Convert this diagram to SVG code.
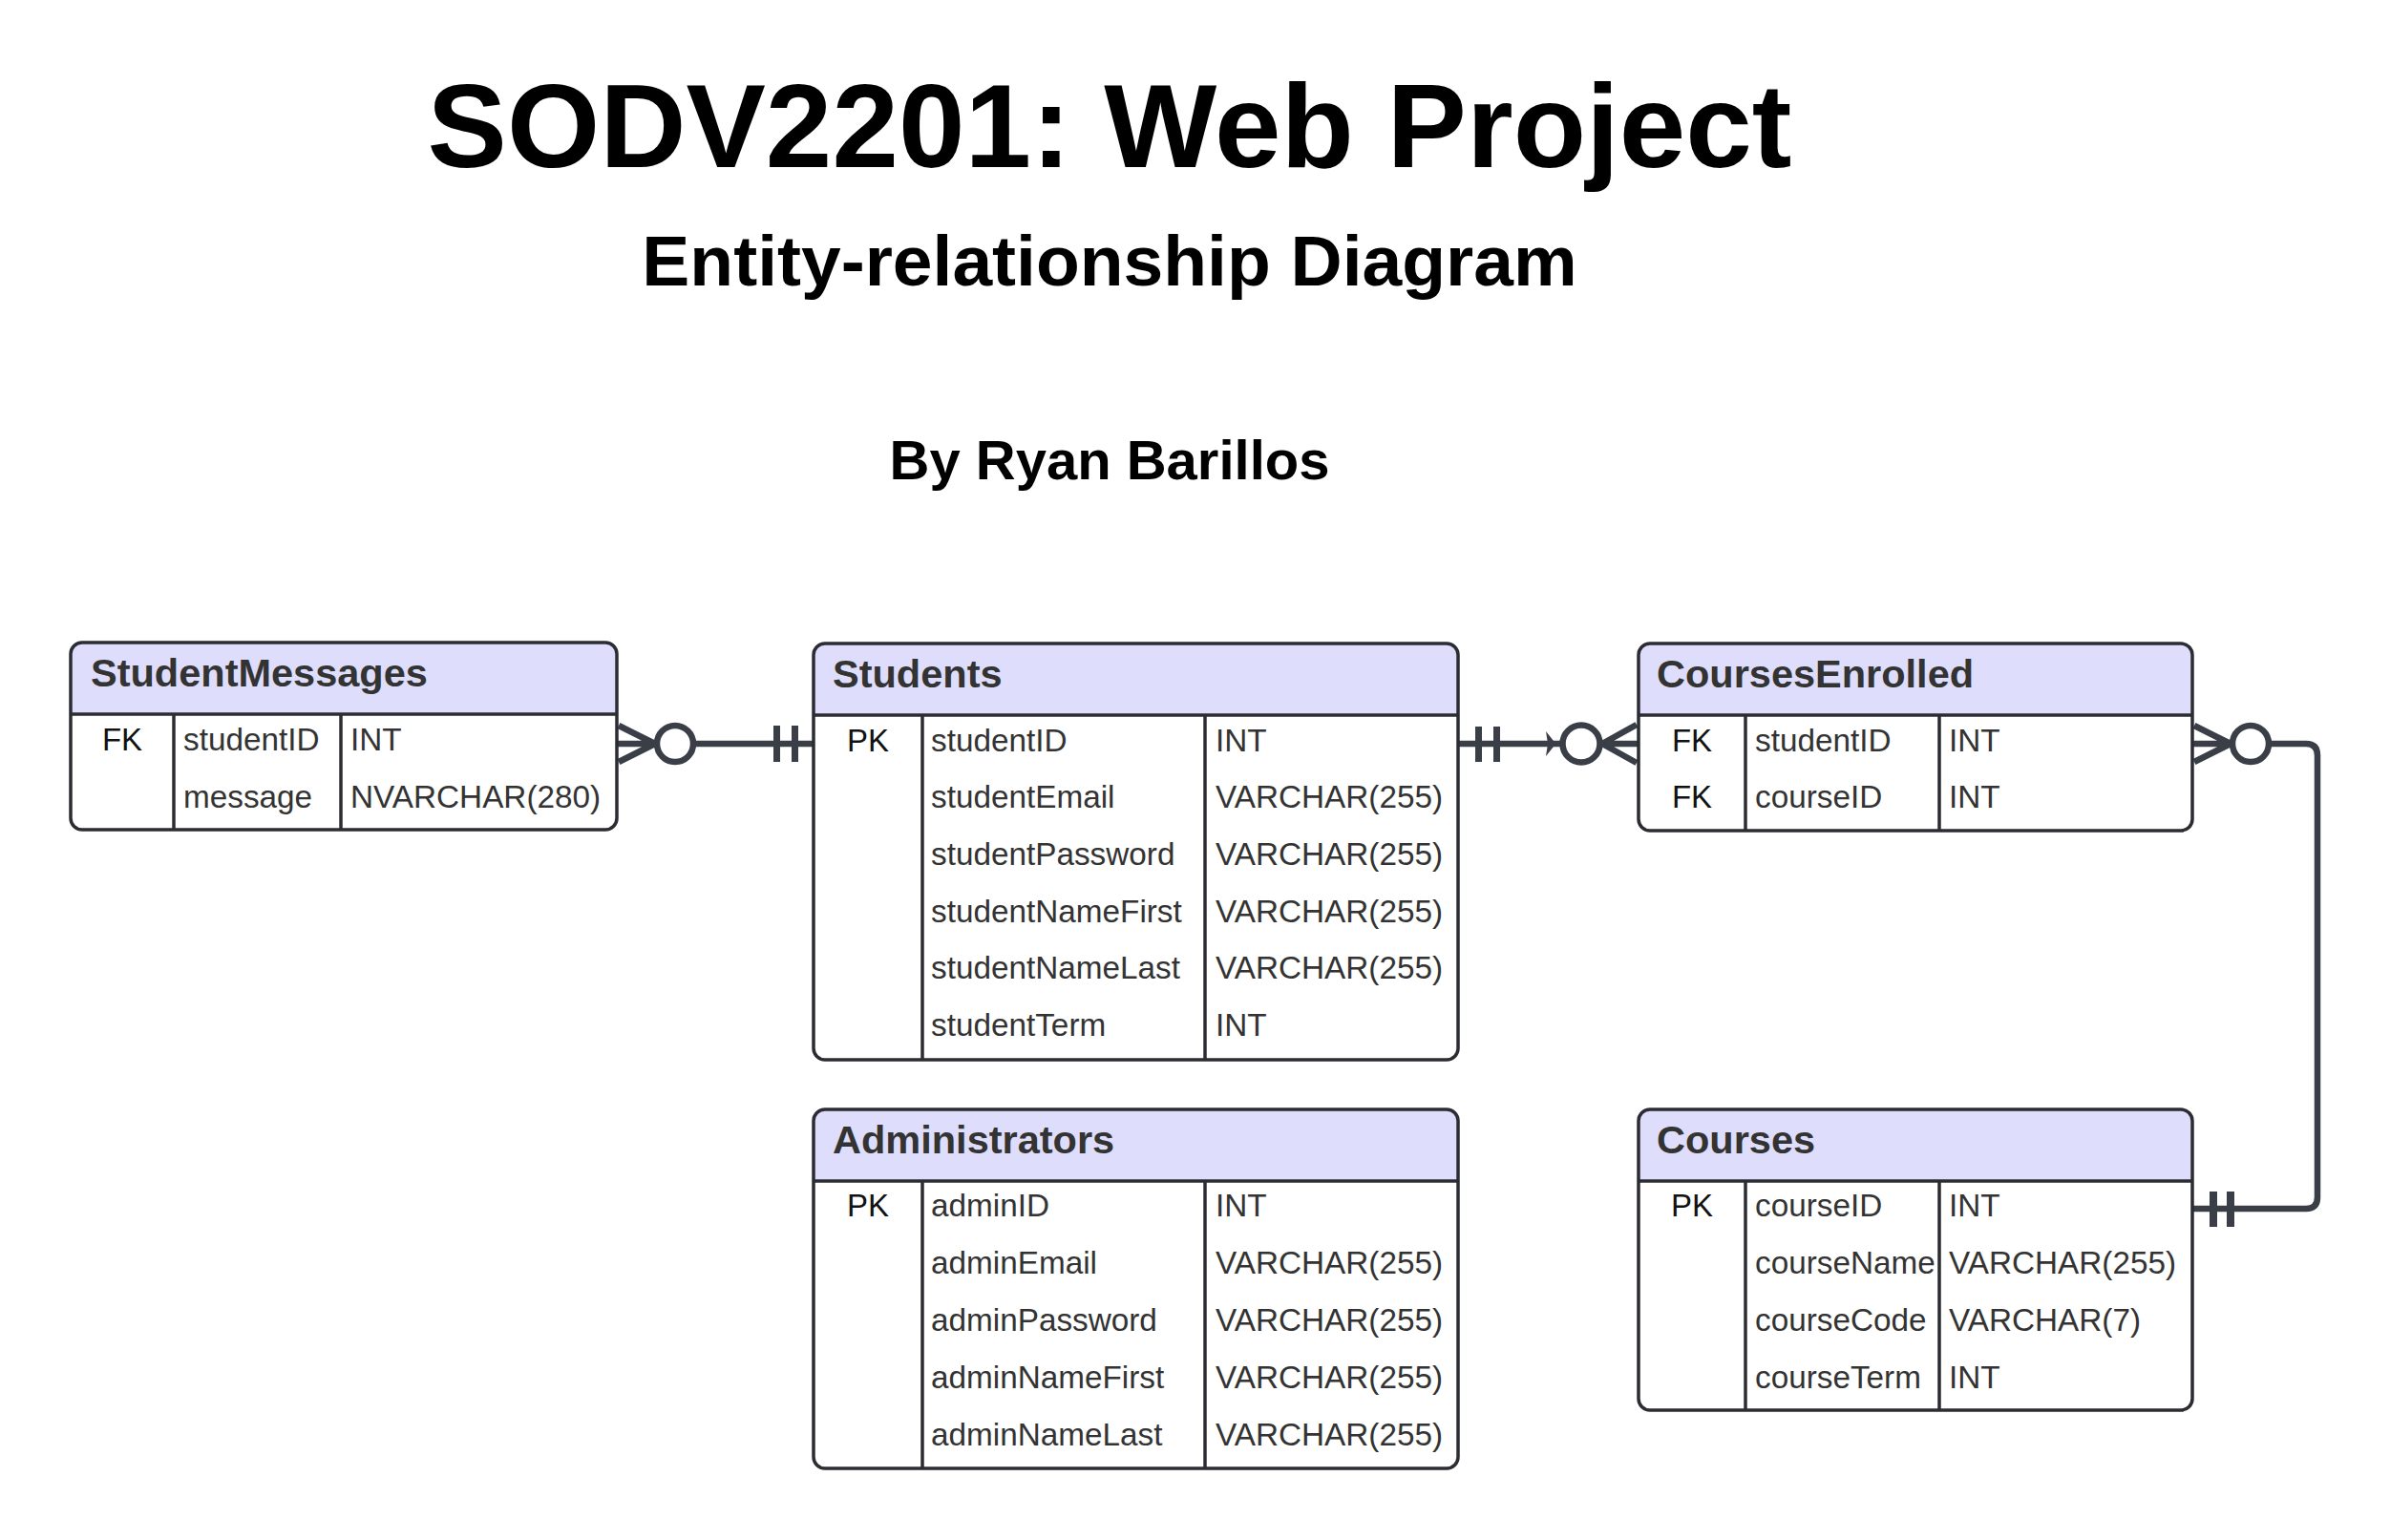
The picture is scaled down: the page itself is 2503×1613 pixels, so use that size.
<svg xmlns="http://www.w3.org/2000/svg" width="2503" height="1613" viewBox="0 0 2503 1613">
<style>
text{font-family:"Liberation Sans",Arial,sans-serif}
.title{font-weight:bold;fill:#000;text-anchor:middle}
.hdr{fill:#dedefc}
.box{fill:none;stroke:#2b2d33;stroke-width:3.5}
.ln{stroke:#2b2d33;stroke-width:3.5}
.ht{font-size:41.5px;font-weight:bold;fill:#333}
.k{font-size:33px;fill:#111;text-anchor:middle}
.f{font-size:33.3px;fill:#333}
.c{fill:none;stroke:#3a3e47;stroke-width:6.5;stroke-linecap:butt}
.bar{fill:#3a3e47}
</style>
<rect width="2503" height="1613" fill="#fff"/>
<text class="title" x="1162" y="175" font-size="125">SODV2201: Web Project</text>
<text class="title" x="1162" y="299" font-size="75">Entity-relationship Diagram</text>
<text class="title" x="1162" y="502" font-size="58">By Ryan Barillos</text>

<g id="connectors">
  <!-- StudentMessages - Students -->
  <path class="c" d="M648 760 L686 779 M648 798 L686 779 M647 779 H688"/>
  <circle class="c" cx="707" cy="779" r="19"/>
  <path class="c" d="M726 779 H852"/>
  <rect class="bar" x="810" y="760" width="7" height="38"/>
  <rect class="bar" x="829" y="760" width="7" height="38"/>
  <!-- Students - CoursesEnrolled -->
  <path class="c" d="M1527 779 H1636"/>
  <rect class="bar" x="1545" y="761" width="7" height="37"/>
  <rect class="bar" x="1564" y="761" width="7" height="37"/>
  <polygon class="bar" points="1619,766 1627,776 1627,782 1619,792 1621,779"/>
  <circle class="c" cx="1656" cy="779" r="19.5"/>
  <path class="c" d="M1678 779 L1714 759 M1678 779 L1714 799 M1676 779 H1716"/>
  <!-- CoursesEnrolled - Courses -->
  <path class="c" d="M2298 760 L2336 779 M2298 798 L2336 779 M2296 779 H2338"/>
  <circle class="c" cx="2357" cy="779" r="19"/>
  <path class="c" d="M2376 779 H2415 Q2427 779 2427 791 V1254 Q2427 1266 2415 1266 H2296"/>
  <rect class="bar" x="2314" y="1248" width="8" height="37"/>
  <rect class="bar" x="2332" y="1248" width="8" height="37"/>
</g>

<g id="StudentMessages">
  <path class="hdr" d="M74 748 V685 Q74 673 86 673 H634 Q646 673 646 685 V748 Z"/>
  <rect class="box" x="74" y="673" width="572" height="196" rx="12"/>
  <line class="ln" x1="74" y1="748" x2="646" y2="748"/>
  <line class="ln" x1="182" y1="748" x2="182" y2="869"/>
  <line class="ln" x1="357" y1="748" x2="357" y2="869"/>
  <text class="ht" x="95" y="719">StudentMessages</text>
  <text class="k" x="128" y="786">FK</text>
  <text class="f" x="192" y="786">studentID</text>
  <text class="f" x="367" y="786">INT</text>
  <text class="f" x="192" y="846">message</text>
  <text class="f" x="367" y="846">NVARCHAR(280)</text>
</g>

<g id="Students">
  <path class="hdr" d="M852 749 V686 Q852 674 864 674 H1515 Q1527 674 1527 686 V749 Z"/>
  <rect class="box" x="852" y="674" width="675" height="436" rx="12"/>
  <line class="ln" x1="852" y1="749" x2="1527" y2="749"/>
  <line class="ln" x1="966" y1="749" x2="966" y2="1110"/>
  <line class="ln" x1="1262" y1="749" x2="1262" y2="1110"/>
  <text class="ht" x="872" y="720">Students</text>
  <text class="k" x="909" y="787">PK</text>
  <text class="f" x="975" y="787">studentID</text>
  <text class="f" x="1273" y="787">INT</text>
  <text class="f" x="975" y="846">studentEmail</text>
  <text class="f" x="1273" y="846">VARCHAR(255)</text>
  <text class="f" x="975" y="906">studentPassword</text>
  <text class="f" x="1273" y="906">VARCHAR(255)</text>
  <text class="f" x="975" y="966">studentNameFirst</text>
  <text class="f" x="1273" y="966">VARCHAR(255)</text>
  <text class="f" x="975" y="1025">studentNameLast</text>
  <text class="f" x="1273" y="1025">VARCHAR(255)</text>
  <text class="f" x="975" y="1085">studentTerm</text>
  <text class="f" x="1273" y="1085">INT</text>
</g>

<g id="CoursesEnrolled">
  <path class="hdr" d="M1716 749 V686 Q1716 674 1728 674 H2284 Q2296 674 2296 686 V749 Z"/>
  <rect class="box" x="1716" y="674" width="580" height="196" rx="12"/>
  <line class="ln" x1="1716" y1="749" x2="2296" y2="749"/>
  <line class="ln" x1="1828" y1="749" x2="1828" y2="870"/>
  <line class="ln" x1="2031" y1="749" x2="2031" y2="870"/>
  <text class="ht" x="1735" y="720">CoursesEnrolled</text>
  <text class="k" x="1772" y="787">FK</text>
  <text class="f" x="1838" y="787">studentID</text>
  <text class="f" x="2041" y="787">INT</text>
  <text class="k" x="1772" y="846">FK</text>
  <text class="f" x="1838" y="846">courseID</text>
  <text class="f" x="2041" y="846">INT</text>
</g>

<g id="Administrators">
  <path class="hdr" d="M852 1237 V1174 Q852 1162 864 1162 H1515 Q1527 1162 1527 1174 V1237 Z"/>
  <rect class="box" x="852" y="1162" width="675" height="376" rx="12"/>
  <line class="ln" x1="852" y1="1237" x2="1527" y2="1237"/>
  <line class="ln" x1="966" y1="1237" x2="966" y2="1538"/>
  <line class="ln" x1="1262" y1="1237" x2="1262" y2="1538"/>
  <text class="ht" x="872" y="1208">Administrators</text>
  <text class="k" x="909" y="1274">PK</text>
  <text class="f" x="975" y="1274">adminID</text>
  <text class="f" x="1273" y="1274">INT</text>
  <text class="f" x="975" y="1334">adminEmail</text>
  <text class="f" x="1273" y="1334">VARCHAR(255)</text>
  <text class="f" x="975" y="1394">adminPassword</text>
  <text class="f" x="1273" y="1394">VARCHAR(255)</text>
  <text class="f" x="975" y="1454">adminNameFirst</text>
  <text class="f" x="1273" y="1454">VARCHAR(255)</text>
  <text class="f" x="975" y="1514">adminNameLast</text>
  <text class="f" x="1273" y="1514">VARCHAR(255)</text>
</g>

<g id="Courses">
  <path class="hdr" d="M1716 1237 V1174 Q1716 1162 1728 1162 H2284 Q2296 1162 2296 1174 V1237 Z"/>
  <rect class="box" x="1716" y="1162" width="580" height="315" rx="12"/>
  <line class="ln" x1="1716" y1="1237" x2="2296" y2="1237"/>
  <line class="ln" x1="1828" y1="1237" x2="1828" y2="1477"/>
  <line class="ln" x1="2031" y1="1237" x2="2031" y2="1477"/>
  <text class="ht" x="1735" y="1208">Courses</text>
  <text class="k" x="1772" y="1274">PK</text>
  <text class="f" x="1838" y="1274">courseID</text>
  <text class="f" x="2041" y="1274">INT</text>
  <text class="f" x="1838" y="1334">courseName</text>
  <text class="f" x="2041" y="1334">VARCHAR(255)</text>
  <text class="f" x="1838" y="1394">courseCode</text>
  <text class="f" x="2041" y="1394">VARCHAR(7)</text>
  <text class="f" x="1838" y="1454">courseTerm</text>
  <text class="f" x="2041" y="1454">INT</text>
</g>
</svg>
